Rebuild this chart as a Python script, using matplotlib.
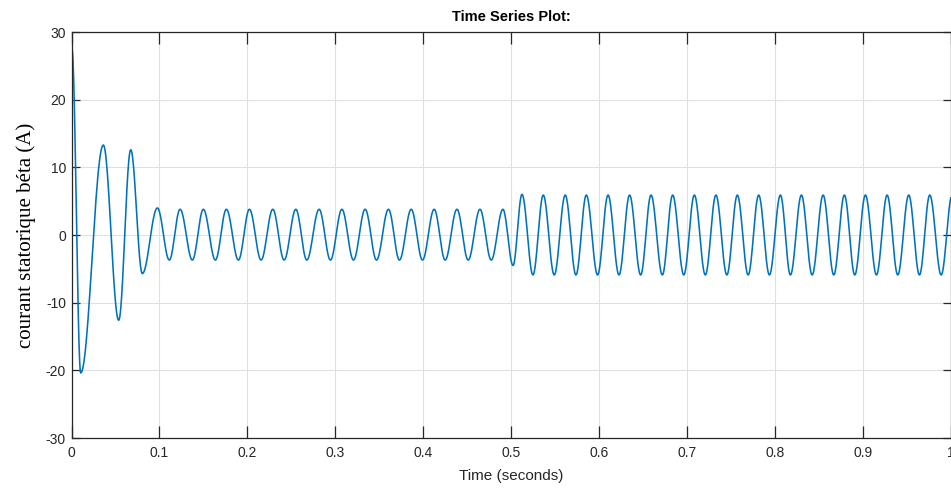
import numpy as np
import matplotlib
matplotlib.use("Agg")
import matplotlib.pyplot as plt

# Extrema of the stator current (time in s, current in A)
ext_t = [0.0, 0.0005, 0.0105, 0.0362, 0.0537, 0.0674,
         0.0806, 0.0977, 0.1113, 0.1235, 0.1375, 0.1500, 0.1637, 0.1762,
         0.1899, 0.2024, 0.2157, 0.2290, 0.2419, 0.2552, 0.2677, 0.2817,
         0.2946, 0.3076, 0.3208, 0.3341, 0.3470, 0.3606, 0.3731, 0.3865,
         0.3993, 0.4126, 0.4251, 0.4385, 0.4513, 0.4647, 0.4775, 0.4908,
         0.5023, 0.5125, 0.5250, 0.5367, 0.5492, 0.5617, 0.5739, 0.5857,
         0.5985, 0.6104, 0.6229, 0.6349, 0.6475, 0.6593, 0.6722, 0.6839,
         0.6966, 0.7086, 0.7211, 0.7331, 0.7456, 0.7575, 0.7698, 0.7818,
         0.7940, 0.8065, 0.8179, 0.8304, 0.8426, 0.8551, 0.8672, 0.8793,
         0.8911, 0.9032, 0.9158, 0.9279, 0.9400, 0.9525, 0.9647, 0.9764,
         0.9894, 1.0018]
ext_v = [0.0, 27.5, -20.4, 13.3, -12.6, 12.6,
         -5.7, 4.0, -3.7, 3.8, -3.7, 3.8, -3.7, 3.8,
         -3.7, 3.8, -3.7, 3.8, -3.7, 3.8, -3.7, 3.8,
         -3.7, 3.8, -3.7, 3.8, -3.7, 3.8, -3.7, 3.8,
         -3.7, 3.8, -3.7, 3.8, -3.7, 3.8, -3.7, 3.8,
         -4.5, 6.0, -5.9, 5.9, -5.9, 5.9, -5.9, 5.9,
         -5.9, 5.9, -5.9, 5.9, -5.9, 5.9, -5.9, 5.9,
         -5.9, 5.9, -5.9, 5.9, -5.9, 5.9, -5.9, 5.9,
         -5.9, 5.9, -5.9, 5.9, -5.9, 5.9, -5.9, 5.9,
         -5.9, 5.9, -5.9, 5.9, -5.9, 5.9, -5.9, 5.9,
         -5.9, 5.9]

x_ticks = [0, 0.1, 0.2, 0.3, 0.4, 0.5, 0.6, 0.7, 0.8, 0.9, 1]
x_tick_labels = ["0", "0.1", "0.2", "0.3", "0.4", "0.5", "0.6", "0.7", "0.8", "0.9", "1"]
y_ticks = [-30, -20, -10, 0, 10, 20, 30]
y_tick_labels = ["-30", "-20", "-10", "0", "10", "20", "30"]

# smooth half-cosine shape between consecutive read extrema
tt, vv = [], []
for i in range(len(ext_t) - 1):
    s = np.linspace(0, 1, 25, endpoint=False)
    tt.append(ext_t[i] + (ext_t[i + 1] - ext_t[i]) * s)
    vv.append(ext_v[i] + (ext_v[i + 1] - ext_v[i]) * (1 - np.cos(np.pi * s)) / 2)
tt.append([ext_t[-1]]); vv.append([ext_v[-1]])
tt = np.concatenate(tt); vv = np.concatenate(vv)

tick_font = ["Liberation Sans Narrow", "Liberation Sans", "DejaVu Sans"]
dark = "#262626"

fig = plt.figure(figsize=(9.51, 4.94), dpi=100)
ax = fig.add_axes([71.5 / 951, 56 / 494, (950.5 - 71.5) / 951, (438 - 32) / 494])
ax.plot(tt, vv, color="#0072BD", lw=1.15)
ax.set_xlim(0, 1)
ax.set_ylim(-30, 30)
ax.set_xticks(x_ticks)
ax.set_xticklabels(x_tick_labels)
ax.set_yticks(y_ticks)
ax.set_yticklabels(y_tick_labels)
ax.grid(True, color="#e0e0e0", lw=0.8)
ax.set_axisbelow(True)
for sp in ax.spines.values():
    sp.set_color(dark)
    sp.set_linewidth(0.9)
ax.tick_params(axis="x", direction="in", length=8.5, width=0.9, top=True,
               colors=dark, labelsize=10, pad=6)
ax.tick_params(axis="y", direction="in", length=6, width=0.9, right=True,
               colors=dark, labelsize=10, pad=4)
for lab in ax.get_xticklabels() + ax.get_yticklabels():
    lab.set_family(tick_font)
ax.set_xlabel("Time (seconds)", family=tick_font, fontsize=11, color=dark, labelpad=6)
ax.set_ylabel("courant statorique béta (A)", family=["Liberation Serif", "DejaVu Serif"],
              fontsize=15, color="black", labelpad=7)
ax.set_title("Time Series Plot:", family=tick_font, fontsize=10.5, fontweight="bold",
             color="black", pad=8)
fig.savefig("out.png", dpi=100)
